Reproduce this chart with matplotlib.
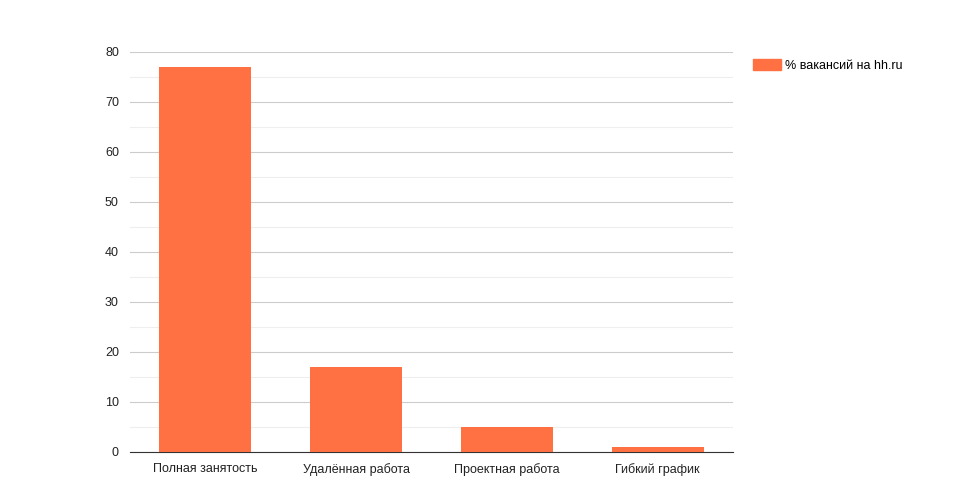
import matplotlib.pyplot as plt
from matplotlib.patches import Patch

plt.rcParams['font.family'] = ['Liberation Sans', 'DejaVu Sans']

categories = ['Полная занятость', 'Удалённая работа', 'Проектная работа', 'Гибкий график']
values = [77, 17, 5, 1]
series_name = '% вакансий на hh.ru'
bar_color = '#FF7043'

fig = plt.figure(figsize=(9.72, 4.83), dpi=100)
ax = fig.add_axes([130 / 972, 31 / 483, 603 / 972, 400 / 483])

ax.bar(range(len(categories)), values, width=0.61, color=bar_color, zorder=3)
ax.set_xlim(-0.5, len(categories) - 0.5)
ax.set_ylim(0, 80)
ax.set_yticks(range(0, 81, 10))
ax.set_yticks(range(5, 80, 10), minor=True)
ax.set_xticks(range(len(categories)))
ax.set_xticklabels(categories)
ax.grid(axis='y', which='major', color='#cccccc', linewidth=0.8, zorder=0)
ax.grid(axis='y', which='minor', color='#eeeeee', linewidth=0.8, zorder=0)
ax.tick_params(axis='both', which='both', length=0, labelsize=9, colors='#222222', pad=8)
for side in ['top', 'right', 'left']:
    ax.spines[side].set_visible(False)
ax.spines['bottom'].set_color('#333333')

fig.legend(handles=[Patch(color=bar_color, label=series_name)],
           loc='upper left', bbox_to_anchor=(742 / 972, 1 - 48 / 483),
           frameon=False, fontsize=9, handlelength=2.2, handleheight=1.0,
           handletextpad=0.3)

fig.savefig('out.png', dpi=100)
